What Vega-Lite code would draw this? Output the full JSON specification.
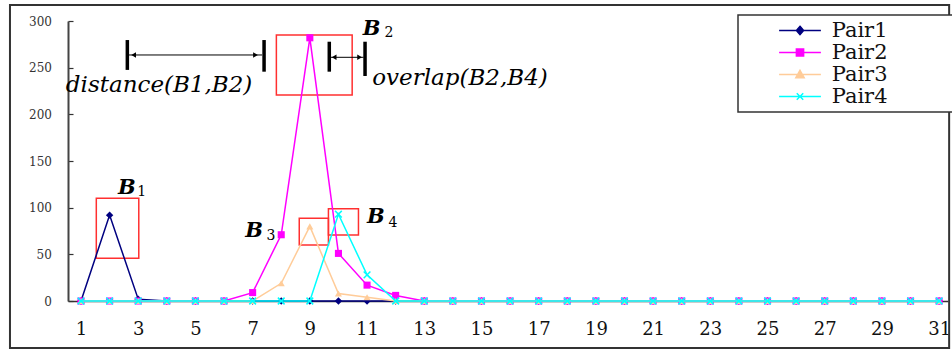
{
  "$schema": "https://vega.github.io/schema/vega-lite/v6.json",
  "width": 880,
  "height": 280,
  "autosize": {"type": "none"},
  "padding": {"left": 68, "top": 21, "right": 4, "bottom": 49},
  "background": "white",
  "config": {"view": {"stroke": null}, "axis": {"grid": false}},
  "datasets": {
    "series": [
      {"s":"Pair1","x":1,"y":0},{"s":"Pair1","x":2,"y":92},{"s":"Pair1","x":3,"y":2},{"s":"Pair1","x":4,"y":0},{"s":"Pair1","x":5,"y":0},{"s":"Pair1","x":6,"y":0},{"s":"Pair1","x":7,"y":0},{"s":"Pair1","x":8,"y":0},{"s":"Pair1","x":9,"y":0},{"s":"Pair1","x":10,"y":0},{"s":"Pair1","x":11,"y":0},{"s":"Pair1","x":12,"y":0},{"s":"Pair1","x":13,"y":0},{"s":"Pair1","x":14,"y":0},{"s":"Pair1","x":15,"y":0},{"s":"Pair1","x":16,"y":0},{"s":"Pair1","x":17,"y":0},{"s":"Pair1","x":18,"y":0},{"s":"Pair1","x":19,"y":0},{"s":"Pair1","x":20,"y":0},{"s":"Pair1","x":21,"y":0},{"s":"Pair1","x":22,"y":0},{"s":"Pair1","x":23,"y":0},{"s":"Pair1","x":24,"y":0},{"s":"Pair1","x":25,"y":0},{"s":"Pair1","x":26,"y":0},{"s":"Pair1","x":27,"y":0},{"s":"Pair1","x":28,"y":0},{"s":"Pair1","x":29,"y":0},{"s":"Pair1","x":30,"y":0},{"s":"Pair1","x":31,"y":0},
      {"s":"Pair2","x":1,"y":0},{"s":"Pair2","x":2,"y":0},{"s":"Pair2","x":3,"y":0},{"s":"Pair2","x":4,"y":0},{"s":"Pair2","x":5,"y":0},{"s":"Pair2","x":6,"y":0},{"s":"Pair2","x":7,"y":9},{"s":"Pair2","x":8,"y":71},{"s":"Pair2","x":9,"y":282},{"s":"Pair2","x":10,"y":51},{"s":"Pair2","x":11,"y":17},{"s":"Pair2","x":12,"y":6},{"s":"Pair2","x":13,"y":0},{"s":"Pair2","x":14,"y":0},{"s":"Pair2","x":15,"y":0},{"s":"Pair2","x":16,"y":0},{"s":"Pair2","x":17,"y":0},{"s":"Pair2","x":18,"y":0},{"s":"Pair2","x":19,"y":0},{"s":"Pair2","x":20,"y":0},{"s":"Pair2","x":21,"y":0},{"s":"Pair2","x":22,"y":0},{"s":"Pair2","x":23,"y":0},{"s":"Pair2","x":24,"y":0},{"s":"Pair2","x":25,"y":0},{"s":"Pair2","x":26,"y":0},{"s":"Pair2","x":27,"y":0},{"s":"Pair2","x":28,"y":0},{"s":"Pair2","x":29,"y":0},{"s":"Pair2","x":30,"y":0},{"s":"Pair2","x":31,"y":0},
      {"s":"Pair3","x":1,"y":0},{"s":"Pair3","x":2,"y":0},{"s":"Pair3","x":3,"y":0},{"s":"Pair3","x":4,"y":0},{"s":"Pair3","x":5,"y":0},{"s":"Pair3","x":6,"y":0},{"s":"Pair3","x":7,"y":0},{"s":"Pair3","x":8,"y":19},{"s":"Pair3","x":9,"y":80},{"s":"Pair3","x":10,"y":8},{"s":"Pair3","x":11,"y":4},{"s":"Pair3","x":12,"y":0},{"s":"Pair3","x":13,"y":0},{"s":"Pair3","x":14,"y":0},{"s":"Pair3","x":15,"y":0},{"s":"Pair3","x":16,"y":0},{"s":"Pair3","x":17,"y":0},{"s":"Pair3","x":18,"y":0},{"s":"Pair3","x":19,"y":0},{"s":"Pair3","x":20,"y":0},{"s":"Pair3","x":21,"y":0},{"s":"Pair3","x":22,"y":0},{"s":"Pair3","x":23,"y":0},{"s":"Pair3","x":24,"y":0},{"s":"Pair3","x":25,"y":0},{"s":"Pair3","x":26,"y":0},{"s":"Pair3","x":27,"y":0},{"s":"Pair3","x":28,"y":0},{"s":"Pair3","x":29,"y":0},{"s":"Pair3","x":30,"y":0},{"s":"Pair3","x":31,"y":0},
      {"s":"Pair4","x":1,"y":0},{"s":"Pair4","x":2,"y":0},{"s":"Pair4","x":3,"y":0},{"s":"Pair4","x":4,"y":0},{"s":"Pair4","x":5,"y":0},{"s":"Pair4","x":6,"y":0},{"s":"Pair4","x":7,"y":0},{"s":"Pair4","x":8,"y":0},{"s":"Pair4","x":9,"y":0},{"s":"Pair4","x":10,"y":93},{"s":"Pair4","x":11,"y":28},{"s":"Pair4","x":12,"y":0},{"s":"Pair4","x":13,"y":0},{"s":"Pair4","x":14,"y":0},{"s":"Pair4","x":15,"y":0},{"s":"Pair4","x":16,"y":0},{"s":"Pair4","x":17,"y":0},{"s":"Pair4","x":18,"y":0},{"s":"Pair4","x":19,"y":0},{"s":"Pair4","x":20,"y":0},{"s":"Pair4","x":21,"y":0},{"s":"Pair4","x":22,"y":0},{"s":"Pair4","x":23,"y":0},{"s":"Pair4","x":24,"y":0},{"s":"Pair4","x":25,"y":0},{"s":"Pair4","x":26,"y":0},{"s":"Pair4","x":27,"y":0},{"s":"Pair4","x":28,"y":0},{"s":"Pair4","x":29,"y":0},{"s":"Pair4","x":30,"y":0},{"s":"Pair4","x":31,"y":0}
    ],
    "frame": [{"x": -1.483, "x2": 31.35, "y": 317.1, "y2": -50.36}],
    "boxes": [
      {"name": "B1", "x": 1.535, "x2": 3.02, "y": 110, "y2": 45.7},
      {"name": "B2", "x": 7.83, "x2": 10.48, "y": 285, "y2": 220.7},
      {"name": "B3", "x": 8.63, "x2": 9.65, "y": 88.6, "y2": 60},
      {"name": "B4", "x": 9.65, "x2": 10.7, "y": 98.9, "y2": 70.7}
    ],
    "bars": [
      {"x": 2.62, "y": 279.6, "y2": 247.6},
      {"x": 7.4, "y": 279.6, "y2": 245.7},
      {"x": 9.68, "y": 277.8, "y2": 245.7},
      {"x": 10.93, "y": 277.8, "y2": 241.1}
    ],
    "arrows": [
      {"x": 2.66, "x2": 7.33, "y": 263.6},
      {"x": 9.72, "x2": 10.88, "y": 261.1}
    ],
    "heads": [
      {"x": 2.84, "y": 263.6, "d": "L"},
      {"x": 7.1, "y": 263.6, "d": "R"},
      {"x": 9.85, "y": 261.1, "d": "L"},
      {"x": 10.74, "y": 261.1, "d": "R"}
    ],
    "texts": [
      {"x": 2.6, "y": 114.6, "t": "B", "role": "name"},
      {"x": 3.12, "y": 112.5, "t": "1", "role": "sub"},
      {"x": 11.16, "y": 285.0, "t": "B", "role": "name"},
      {"x": 11.77, "y": 283.2, "t": "2", "role": "sub"},
      {"x": 7.05, "y": 68.3, "t": "B", "role": "name"},
      {"x": 7.64, "y": 65.4, "t": "3", "role": "sub"},
      {"x": 11.31, "y": 83.3, "t": "B", "role": "name"},
      {"x": 11.91, "y": 79.3, "t": "4", "role": "sub"},
      {"x": 3.73, "y": 224.3, "t": "distance(B1,B2)", "role": "measure"},
      {"x": 14.25, "y": 231.4, "t": "overlap(B2,B4)", "role": "measure"}
    ]
  },
  "encoding": {
    "x": {
      "field": "x", "type": "quantitative", "title": null,
      "scale": {"domain": [0.5455, 31.31], "nice": false, "zero": false},
      "axis": {
        "values": [1,1.5,2,2.5,3,3.5,4,4.5,5,5.5,6,6.5,7,7.5,8,8.5,9,9.5,10,10.5,11,11.5,12,12.5,13,13.5,14,14.5,15,15.5,16,16.5,17,17.5,18,18.5,19,19.5,20,20.5,21,21.5,22,22.5,23,23.5,24,24.5,25,25.5,26,26.5,27,27.5,28,28.5,29,29.5,30,30.5,31],
        "format": "d",
        "labelExpr": "datum.value % 2 === 1 ? datum.label : ''",
        "tickOpacity": {"condition": {"test": "datum.value % 1 !== 0", "value": 1}, "value": 0},
        "tickSize": -5, "tickColor": "#333", "tickWidth": 1.2,
        "domainColor": "#333", "domainWidth": 1.5,
        "labelFont": "DejaVu Serif", "labelFontSize": 18, "labelColor": "#111",
        "labelPadding": 24.8, "labelOverlap": false, "labelFlush": false, "title": null
      }
    },
    "y": {
      "field": "y", "type": "quantitative", "title": null,
      "scale": {"domain": [0, 300], "nice": false, "zero": false},
      "axis": {
        "values": [0, 50, 100, 150, 200, 250, 300],
        "tickSize": -5, "tickColor": "#333", "tickWidth": 1.2,
        "domainColor": "#444", "domainWidth": 2,
        "labelFont": "DejaVu Serif", "labelFontSize": 12, "labelColor": "#333",
        "labelPadding": 21.6, "labelOverlap": false, "title": null
      }
    }
  },
  "layer": [
    {
      "data": {"name": "frame"},
      "mark": {"type": "rect", "filled": false, "stroke": "#333", "strokeWidth": 2, "clip": false},
      "encoding": {"x2": {"field": "x2"}, "y2": {"field": "y2"}}
    },
    {
      "data": {"name": "boxes"},
      "mark": {"type": "rect", "filled": false, "stroke": "#ff3030", "strokeWidth": 1.5},
      "encoding": {"x2": {"field": "x2"}, "y2": {"field": "y2"}}
    },
    {
      "data": {"name": "series"},
      "transform": [{"filter": "datum.s === 'Pair1'"}],
      "mark": {"type": "line", "strokeWidth": 1.5},
      "encoding": {
        "color": {
          "field": "s", "type": "nominal",
          "scale": {"domain": ["Pair1","Pair2","Pair3","Pair4"], "range": ["#000080","#ff00ff","#ffcc99","#00ffff"]},
          "legend": {
            "orient": "none", "legendX": 670, "legendY": -6, "title": null,
            "padding": 5, "strokeColor": "#333", "fillColor": "white",
            "labelFont": "DejaVu Serif", "labelFontSize": 21, "labelColor": "#111",
            "labelExpr": "datum.label + '\u2800\u2800\u2800\u2800'",
            "symbolSize": 361, "symbolStrokeWidth": 1.5, "symbolOffset": 46.5,
            "labelOffset": 21.2, "rowPadding": 0, "labelLimit": 400,
            "encode": {
              "legend": {"update": {"strokeWidth": {"value": 1.5}}},
              "symbols": {"update": {
                "shape": {"signal": "datum.value === 'Pair1' ? 'M-2.2,0H2.2M0,-0.44L0.38,0L0,0.44L-0.38,0Z' : datum.value === 'Pair2' ? 'M-2.2,0H2.2M-0.38,-0.38H0.38V0.38H-0.38Z' : datum.value === 'Pair3' ? 'M-2.2,0H2.2M0,-0.44L0.44,0.34H-0.44Z' : 'M-2.2,0H2.2M-0.34,-0.34L0.34,0.34M-0.34,0.34L0.34,-0.34'"},
                "fill": {"signal": "scale('color', datum.value)"},
                "stroke": {"signal": "scale('color', datum.value)"},
                "strokeWidth": {"value": 1.5},
                "opacity": {"value": 1}
              }}
            }
          }
        }
      }
    },
    {
      "data": {"name": "series"},
      "transform": [{"filter": "datum.s === 'Pair1'"}],
      "mark": {"type": "point", "shape": "diamond", "filled": true, "size": 55, "opacity": 1},
      "encoding": {"color": {"field": "s", "type": "nominal", "legend": null}}
    },
    {
      "data": {"name": "series"},
      "transform": [{"filter": "datum.s === 'Pair2'"}],
      "mark": {"type": "line", "strokeWidth": 1.5},
      "encoding": {"color": {"field": "s", "type": "nominal", "legend": null}}
    },
    {
      "data": {"name": "series"},
      "transform": [{"filter": "datum.s === 'Pair2'"}],
      "mark": {"type": "point", "shape": "square", "filled": true, "size": 50, "opacity": 1},
      "encoding": {"color": {"field": "s", "type": "nominal", "legend": null}}
    },
    {
      "data": {"name": "series"},
      "transform": [{"filter": "datum.s === 'Pair3'"}],
      "mark": {"type": "line", "strokeWidth": 1.5},
      "encoding": {"color": {"field": "s", "type": "nominal", "legend": null}}
    },
    {
      "data": {"name": "series"},
      "transform": [{"filter": "datum.s === 'Pair3'"}],
      "mark": {"type": "point", "shape": "triangle-up", "filled": true, "size": 50, "opacity": 1},
      "encoding": {"color": {"field": "s", "type": "nominal", "legend": null}}
    },
    {
      "data": {"name": "series"},
      "transform": [{"filter": "datum.s === 'Pair4'"}],
      "mark": {"type": "line", "strokeWidth": 1.5},
      "encoding": {"color": {"field": "s", "type": "nominal", "legend": null}}
    },
    {
      "data": {"name": "series"},
      "transform": [{"filter": "datum.s === 'Pair4'"}],
      "mark": {"type": "point", "shape": "M-1,-1L1,1M-1,1L1,-1", "filled": false, "size": 45, "strokeWidth": 1.5, "opacity": 1},
      "encoding": {"color": {"field": "s", "type": "nominal", "legend": null}}
    },
    {
      "data": {"name": "bars"},
      "mark": {"type": "rule", "color": "black", "strokeWidth": 3.5},
      "encoding": {"y2": {"field": "y2"}}
    },
    {
      "data": {"name": "arrows"},
      "mark": {"type": "rule", "color": "black", "strokeWidth": 1},
      "encoding": {"x2": {"field": "x2"}}
    },
    {
      "data": {"name": "heads"},
      "transform": [{"filter": "datum.d === 'L'"}],
      "mark": {"type": "point", "shape": "triangle-left", "filled": true, "color": "black", "size": 30, "opacity": 1},
      "encoding": {}
    },
    {
      "data": {"name": "heads"},
      "transform": [{"filter": "datum.d === 'R'"}],
      "mark": {"type": "point", "shape": "triangle-right", "filled": true, "color": "black", "size": 30, "opacity": 1},
      "encoding": {}
    },
    {
      "data": {"name": "texts"},
      "transform": [{"filter": "datum.role === 'name'"}],
      "mark": {"type": "text", "font": "DejaVu Serif", "fontSize": 21, "fontStyle": "italic", "fontWeight": "bold", "align": "center", "baseline": "alphabetic", "color": "black"},
      "encoding": {"text": {"field": "t"}}
    },
    {
      "data": {"name": "texts"},
      "transform": [{"filter": "datum.role === 'sub'"}],
      "mark": {"type": "text", "font": "DejaVu Serif", "fontSize": 14, "align": "center", "baseline": "alphabetic", "color": "black"},
      "encoding": {"text": {"field": "t"}}
    },
    {
      "data": {"name": "texts"},
      "transform": [{"filter": "datum.role === 'measure'"}],
      "mark": {"type": "text", "font": "DejaVu Serif", "fontSize": 23, "fontStyle": "italic", "align": "center", "baseline": "alphabetic", "color": "black"},
      "encoding": {"text": {"field": "t"}}
    }
  ]
}
